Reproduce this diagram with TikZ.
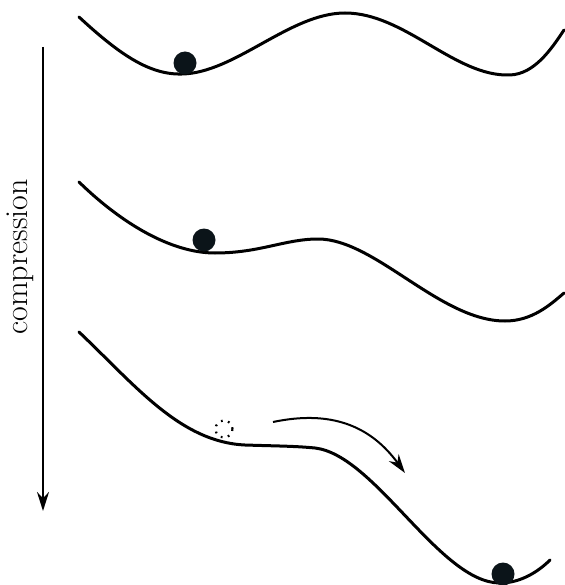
\documentclass[tikz,border=0pt]{standalone}
\usepackage{xcolor}
\usepackage{tikz}
\usetikzlibrary{arrows.meta,positioning,calc}
\definecolor{BallDark}{HTML}{0B1419}

\begin{document}
\begin{tikzpicture}[
  x=1pt, y=-1pt,
  landscape/.style={line width=3pt,line cap=round},
  ball/.style={circle,fill=BallDark,inner sep=0pt,minimum size=23pt},
  ghost/.style={circle,draw,dash pattern=on 1.8pt off 5.5pt,line width=2.2pt,inner sep=0pt,minimum size=17pt},
  arrow/.style={-{Stealth[length=19pt,width=12pt]},line width=2pt}
]
  \useasboundingbox (0,0) rectangle (564,585);

  % energy landscapes, from low to high compression
  \draw[landscape] (79,17) .. controls (120,55) and (150,75) .. (182,74)
    .. controls (235,73) and (290,13) .. (345,13)
    .. controls (405,13) and (455,77) .. (510,75)
    .. controls (535,74) and (552,48) .. (564,30);
  \draw[landscape] (79,182) .. controls (120,222) and (170,253) .. (215,253)
    .. controls (260,253) and (285,239) .. (318,239)
    .. controls (375,239) and (440,321) .. (505,321)
    .. controls (532,321) and (550,305) .. (564,293);
  \draw[landscape] (79,332) .. controls (135,385) and (180,442) .. (245,445)
    .. controls (275,446) and (295,446) .. (315,448)
    .. controls (375,455) and (440,583) .. (500,583)
    .. controls (522,583) and (540,570) .. (550,560);

  \node[ball] (b1) at (185,63) {};
  \node[ball] (b2) at (204,240) {};
  \node[ghost] (old) at (224,429) {};
  \node[ball] (b3) at (503,574) {};

  % compression axis
  \coordinate (ctop) at (43,47);
  \coordinate (cbot) at (43,511);
  \draw[arrow] (ctop) -- (cbot);
  \node[rotate=90,font=\fontsize{32}{36}\selectfont] (clabel) at (20,257) {compression};

  % ball rolls off
  \coordinate (rstart) at (273,422);
  \coordinate (rend) at (405,473);
  \draw[arrow] (rstart) .. controls (330,410) and (370,425) .. (rend);
\end{tikzpicture}
\end{document}
